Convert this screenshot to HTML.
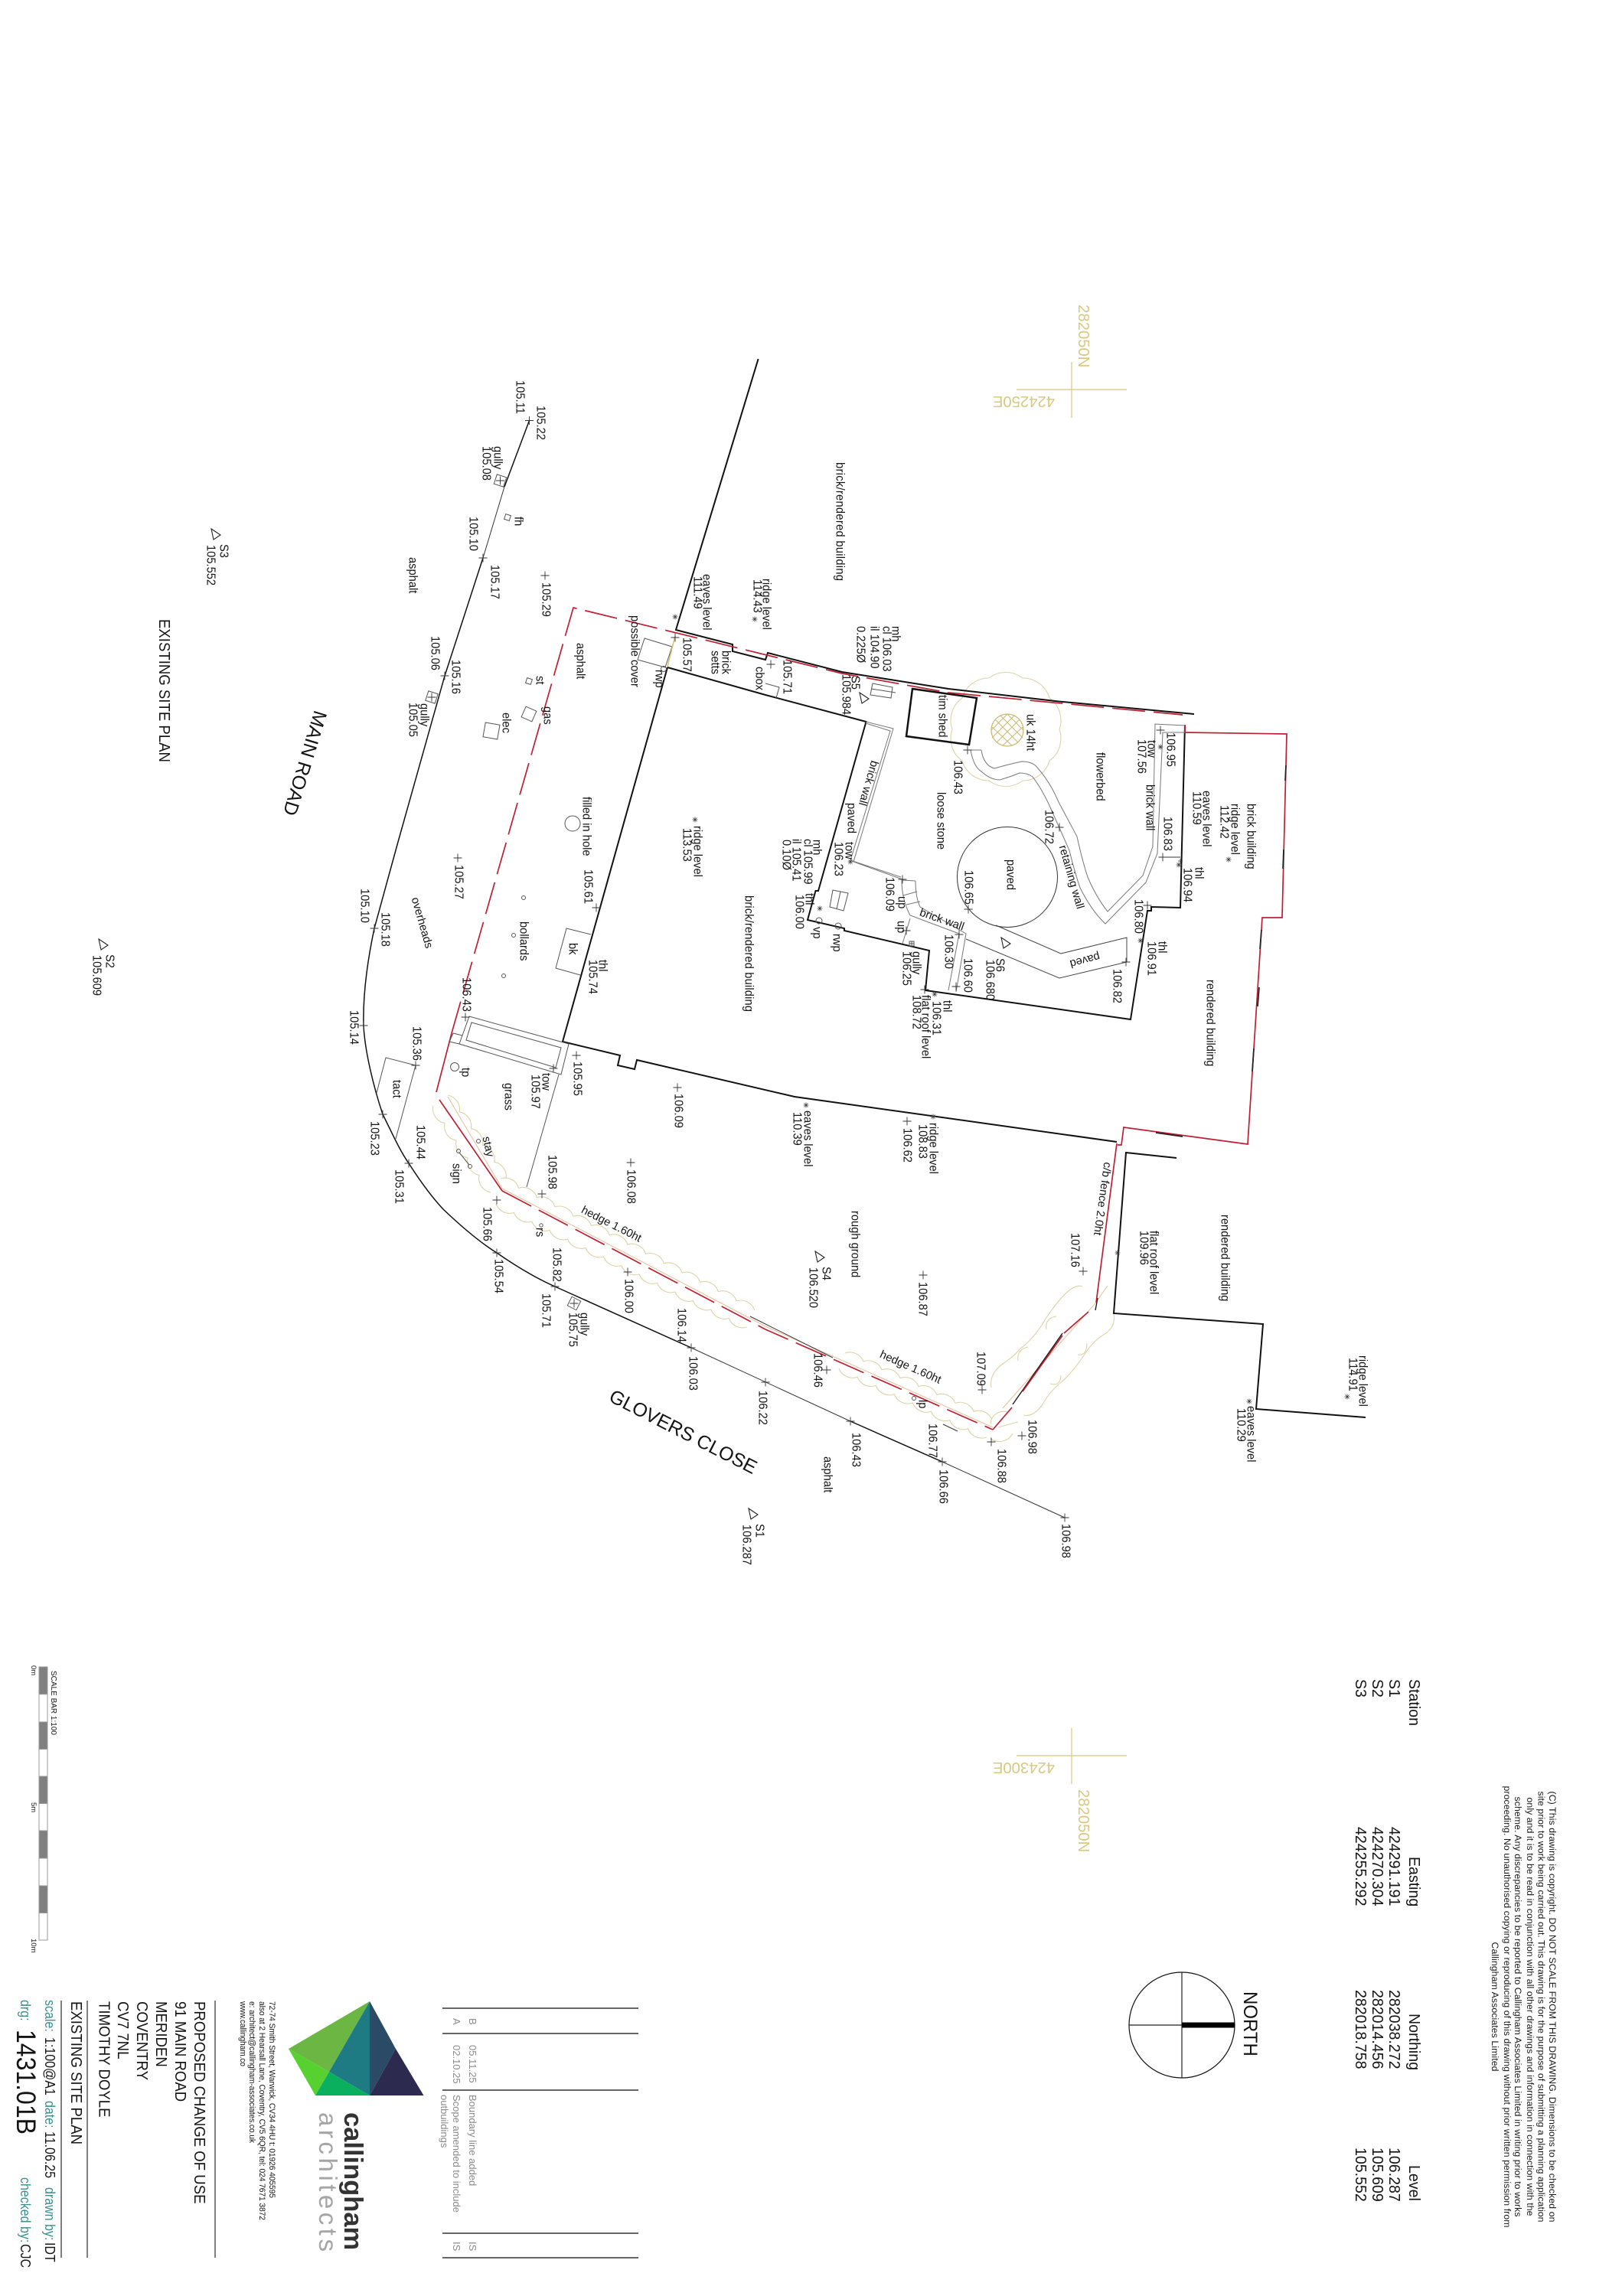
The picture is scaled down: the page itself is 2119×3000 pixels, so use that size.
<!DOCTYPE html>
<html><head><meta charset="utf-8"><title>Existing Site Plan</title>
<style>
html,body{margin:0;padding:0;background:#fff}
svg{display:block}
text{font-family:"Liberation Sans",sans-serif;font-size:14.7px;fill:#141414}
.t{fill:#3c8f8c}.g{fill:#8a8a8a;font-size:13px}.y{fill:#d8c880;font-size:20.3px}
.b19{font-size:19px}.b20{font-size:19.6px}
.th{fill:none;stroke:#111;stroke-width:2}
.tn{fill:none;stroke:#333;stroke-width:1}
.gr{fill:none;stroke:#777;stroke-width:1}
.hd{fill:none;stroke:#dcd3a6;stroke-width:1.1}
.rd{fill:none;stroke:#bd2033;stroke-width:1.7}
</style></head><body>
<svg xmlns="http://www.w3.org/2000/svg" width="2119" height="3000" viewBox="0 0 2119 3000">
<rect width="2119" height="3000" fill="#fff"/>

<!-- grid crosses -->
<path d="M1400 473V546M1328 509H1472M1400 2258V2331M1328 2294H1472" stroke="#d8c880" stroke-width="1.2" fill="none"/>
<text class="y" transform="matrix(0 1 -1 0 1409 398)">282050N</text>
<text class="y" transform="matrix(-1 0 0 -1 1378 518)">424250E</text>
<text class="y" transform="matrix(0 1 -1 0 1409 2338)">282050N</text>
<text class="y" transform="matrix(-1 0 0 -1 1378 2303)">424300E</text>

<!-- hedges -->
<path class="hd" d="M585 1431a19 19 0 0 1 15.2 21.8a19 19 0 0 1 15.2 21.8a19 19 0 0 1 15.2 21.8a19 19 0 0 1 15.2 21.8a19 19 0 0 1 15.2 21.8"/>
<path class="hd" d="M566 1445a19 19 0 0 0 15 22.6a19 19 0 0 0 15 22.6a19 19 0 0 0 15 22.6a19 19 0 0 0 15 22.6a19 19 0 0 0 15 22.6"/>
<path class="hd" d="M654 1540a19 19 0 0 1 23.7 12.3a19 19 0 0 1 23.7 12.3a19 19 0 0 1 23.7 12.3a19 19 0 0 1 23.7 12.3a19 19 0 0 1 23.7 12.3a19 19 0 0 1 23.7 12.3a19 19 0 0 1 23.7 12.3a19 19 0 0 1 23.7 12.3a19 19 0 0 1 23.7 12.3a19 19 0 0 1 23.7 12.3a19 19 0 0 1 23.7 12.3a19 19 0 0 1 23.7 12.3a19 19 0 0 1 23.7 12.3a19 19 0 0 1 23.7 12.3"/>
<path class="hd" d="M648 1573a19 19 0 0 0 23.4 11.5a19 19 0 0 0 23.4 11.5a19 19 0 0 0 23.4 11.5a19 19 0 0 0 23.4 11.5a19 19 0 0 0 23.4 11.5a19 19 0 0 0 23.4 11.5a19 19 0 0 0 23.4 11.5a19 19 0 0 0 23.4 11.5a19 19 0 0 0 23.4 11.5a19 19 0 0 0 23.4 11.5a19 19 0 0 0 23.4 11.5a19 19 0 0 0 23.4 11.5a19 19 0 0 0 23.4 11.5a19 19 0 0 0 23.4 11.5"/>
<path class="hd" d="M1104 1768a19 19 0 0 1 24 10.9a19 19 0 0 1 24 10.9a19 19 0 0 1 24 10.9a19 19 0 0 1 24 10.9a19 19 0 0 1 24 10.9a19 19 0 0 1 24 10.9a19 19 0 0 1 24 10.9a19 19 0 0 1 24 10.9"/>
<path class="hd" d="M1096 1788a19 19 0 0 0 24.1 11.25a19 19 0 0 0 24.1 11.25a19 19 0 0 0 24.1 11.25a19 19 0 0 0 24.1 11.25a19 19 0 0 0 24.1 11.25a19 19 0 0 0 24.1 11.25a19 19 0 0 0 24.1 11.25a19 19 0 0 0 24.1 11.25M1294 1880a20 20 0 0 0 29-7M1304 1865L1330 1858M1294 1860a17 17 0 0 1 22-15"/>
<path class="hd" d="M1295 1813Q1292 1795 1310 1782Q1325 1772 1332 1763Q1352 1748 1366 1723Q1385 1695 1397 1686Q1407 1678 1414 1681M1330 1778Q1328 1763 1343 1760M1367 1737Q1365 1722 1380 1720"/>
<path class="hd" d="M1337 1849Q1350 1852 1362 1835Q1370 1820 1384 1808Q1400 1795 1418 1768Q1430 1750 1445 1742Q1458 1732 1455 1716M1372 1808Q1385 1812 1386 1797M1408 1770Q1420 1772 1420 1755"/>
<path d="M585 1433L656 1553L1000 1733L1297 1865M1310 1840L1430 1704L1447 1680" fill="none" stroke="#e8bd95" stroke-width="1"/>

<!-- tree -->
<path class="hd" d="M1384 953A36 36 0 0 1 1371 994A36 36 0 0 1 1336 1020A36 36 0 0 1 1292 1020A36 36 0 0 1 1257 994A36 36 0 0 1 1244 953A36 36 0 0 1 1257 912A36 36 0 0 1 1292 886A36 36 0 0 1 1336 886A36 36 0 0 1 1371 912A36 36 0 0 1 1384 953"/>
<circle cx="1316" cy="954" r="21" fill="none" stroke="#c9bb73" stroke-width="1.3"/>
<path d="M1300 940L1330 970M1307 935L1336 964M1296 950L1322 974M1332 940L1302 970M1325 935L1296 964M1336 950L1310 974M1316 933L1337 954M1316 933L1295 954" fill="none" stroke="#c9bb73" stroke-width="1.1"/>

<!-- road edge -->
<path class="th" style="stroke-width:1.5" d="M691.5 549.5L659 636M631 729L581 883L520 1100L489 1213C478 1265 474 1305 475 1341C477 1375 488 1420 500 1456C512 1480 522 1503 534 1520C550 1545 565 1565 579 1580C600 1600 625 1622 649 1637C675 1655 700 1670 725 1681L903 1761M1111 1857L1231 1910"/>
<path class="tn" d="M659 636L631 729M903 1761L1111 1857M1231 1910L1391 1983"/>

<!-- buildings -->
<path class="th" d="M990.6 469L883 823L957 842L957 851L1000 862L1003 853L1100 878L1239 900L1383 916.5L1560 933"/>
<path class="th" d="M872 872L1000 908L1131.5 943L1069 1164L1065.5 1164L1055 1202L1103 1213L1103 1216L1214 1242L1209 1294L1477 1332L1499 1190L1504 1190L1504 1185L1542 1186L1548 947"/>
<path class="th" d="M872 872L808 1100L735 1361L810 1379L807 1392L829 1397L832 1385L1038 1433L1459 1492"/>
<path class="th" d="M1537 1513L1471 1506L1455 1716L1650 1730L1641 1841L1784 1852"/>
<path class="th" style="stroke-width:1.3" d="M1323 1835L1388 1742M1431 1712L1434 1696"/>
<path class="tn" d="M980 1720L1088 1774M1232 1861L1251 1870"/>
<path d="M1192 900L1276 912L1266 973L1184 962Z" fill="none" stroke="#111" stroke-width="2.5"/>

<!-- red boundary -->
<path class="rd" stroke-dasharray="43 11" d="M590 1350L749 794L1100 880L1239 905L1545 934"/>
<path class="rd" d="M590 1350L570 1427M574 1437L656 1556"/>
<path class="rd" stroke-dasharray="43 11" d="M656 1556L1000 1737L1297 1868"/>
<path class="rd" d="M1297 1868L1322 1839M1336 1818L1388 1745M1390 1742L1422 1714M1432 1702L1459 1494M1460 1496L1465 1496L1468 1473L1630 1495L1649 1199L1675 1199L1681 959L1548 957V947"/>
<path d="M1648 1215L1646 1240M1636 1400L1638 1370M1645 1290L1643 1315M1680 1000L1679 1020M1677 1110L1676 1135M1510 1480L1545 1485" stroke="#222" stroke-width="1.7" fill="none"/>

<!-- walls -->
<path class="gr" d="M1131 943L1167 952L1115 1126L1179 1149M1131 945L1163 955L1111 1124L1177 1146"/>
<path class="gr" d="M1178 1150Q1178 1175 1189 1196L1253 1220L1239 1294M1196 1151Q1196 1172 1202 1185L1262 1220L1249 1296M1180 1170L1198 1165M1184 1182L1202 1178M1189 1200L1179 1233M1178 1150L1196 1151"/>
<path class="gr" d="M1282 980Q1285 1000 1299 1004Q1320 998 1335 995Q1350 995 1356 1004Q1372 1022 1383 1048L1407 1093Q1414 1125 1421 1146Q1432 1172 1447 1191L1493 1144L1506 1106L1509 946L1548 948"/>
<path class="gr" d="M1268 980Q1272 1002 1282 1008Q1294 1019 1306 1019Q1320 1015 1332 1010Q1342 1010 1349 1015Q1362 1032 1373 1057L1397 1111Q1404 1140 1411 1160Q1426 1190 1444 1207L1497 1153L1512 1115L1519 957L1548 957M1268 980H1282"/>
<path class="tn" d="M1519 1120L1542 1120"/>
<path class="tn" style="stroke:#444" d="M1301 1209L1386 1246L1472 1225L1472 1257L1384 1278L1262 1227"/>
<circle cx="1316" cy="1146" r="65.5" fill="none" stroke="#333" stroke-width="1"/>

<!-- small features -->
<g fill="none" stroke="#555" stroke-width="1">
<rect x="-6.5" y="-6.5" width="13" height="13" transform="translate(653.5 628) rotate(18)"/>
<rect x="-3.5" y="-3.5" width="7" height="7" transform="translate(663 676) rotate(18)"/>
<rect x="-3.5" y="-3.5" width="7" height="7" transform="translate(691 890) rotate(18)"/>
<rect x="-7.5" y="-7.5" width="15" height="15" transform="translate(691 933) rotate(24)"/>
<rect x="-9.5" y="-9.5" width="19" height="19" transform="translate(642 955) rotate(10)"/>
<rect x="-6.5" y="-6.5" width="13" height="13" transform="translate(564 911) rotate(18)"/>
<rect x="-6.5" y="-6.5" width="13" height="13" transform="translate(750 1703) rotate(27)"/>
<path d="M842 834L878 845L869 872L833 862Z"/>
<path d="M1000 893L1018 898L1014 912"/>
<path d="M1140 893L1166 898L1164 912L1137 908ZM1138 900L1170 905"/>
<path d="M1088 1163L1108 1167L1102 1190L1084 1185ZM1098 1165L1093 1188"/>
<path d="M613 1328L743 1364L733 1404L600 1364ZM616 1336L733 1369L726 1395L609 1359Z"/>
<path d="M730 1404L688 1551M592 1350L587 1361L600 1364M592 1350L604 1353"/>
<path d="M772 1221L740 1213L726 1265L758 1274"/>
<path d="M492 1428L504 1382L543 1392L517 1488"/>
<circle cx="867" cy="874" r="3.5"/><circle cx="748" cy="1076" r="10"/>
<circle cx="684" cy="1173" r="2.5"/><circle cx="671" cy="1222" r="2.5"/><circle cx="658" cy="1275" r="2.5"/>
<circle cx="594" cy="1394" r="5.5"/><circle cx="625" cy="1491" r="2.5"/><circle cx="599" cy="1504" r="2.5"/><circle cx="614" cy="1524" r="2.5"/>
<path d="M600 1506L613 1522"/>
<circle cx="707" cy="1601" r="2.2"/><circle cx="1194" cy="1827" r="2.5"/><circle cx="1070" cy="1203" r="4"/><circle cx="1095" cy="1210" r="4"/>
<rect x="1188" y="1230" width="6" height="6"/><path d="M1191 1230v6M1188 1233h6"/>
</g>
<path d="M882 831L872 871" stroke="#cdbf70" stroke-width="1.5" fill="none"/>

<!-- triangles -->
<g fill="none" stroke="#222" stroke-width="1.1">
<path d="M1065 1635L1077 1643L1068 1649Z"/>
<path d="M1123 905L1135 913L1126 919Z"/>
<path d="M1308 1225L1320 1233L1311 1239Z"/>
<path d="M276 691L288 699L279 705Z"/>
<path d="M129 1227L141 1235L132 1241Z"/>
<path d="M978 1971L990 1979L981 1985Z"/>
</g>

<!-- survey plus marks -->
<path fill="none" stroke="#333" stroke-width=".9" d="M686 549.5h11m-5.5-5.5v11M625.500 729h11m-5.500-5.500v11M706.500 752h11m-5.500-5.500v11M575.500 883h11m-5.500-5.500v11M876.500 833h11m-5.500-5.500v11M1001.500 868h11m-5.500-5.500v11M592.500 1121h11m-5.500-5.500v11M773.500 1186h11m-5.500-5.500v11M483.500 1213h11m-5.500-5.500v11M602.500 1329h11m-5.500-5.500v11M469.500 1340h11m-5.500-5.500v11M537.500 1392h11m-5.500-5.500v11M747.500 1379h11m-5.500-5.500v11M879.500 1421h11m-5.500-5.500v11M494.500 1456h11m-5.500-5.500v11M528.500 1520h11m-5.500-5.500v11M818.500 1519h11m-5.500-5.500v11M702.500 1560h11m-5.500-5.500v11M643.500 1568h11m-5.500-5.500v11M643.500 1637h11m-5.500-5.500v11M814.500 1662h11m-5.500-5.500v11M719.500 1681h11m-5.500-5.500v11M744.500 1703h11m-5.500-5.500v11M897.500 1761h11m-5.500-5.500v11M1179.500 1465h11m-5.500-5.500v11M1200.500 1666h11m-5.500-5.500v11M1409.500 1661h11m-5.500-5.500v11M1277.500 1816h11m-5.500-5.500v11M1074.500 1790h11m-5.500-5.500v11M1329.500 1876h11m-5.500-5.500v11M1289.500 1884h11m-5.500-5.500v11M1225.500 1910h11m-5.500-5.500v11M1105.500 1857h11m-5.500-5.500v11M1385.500 1983h11m-5.500-5.500v11M994.500 1806h11m-5.500-5.500v11M1258.500 980h11m-5.500-5.500v11M1510.500 954h11m-5.500-5.500v11M1378.500 1081h11m-5.500-5.500v11M1513.500 1120h11m-5.500-5.500v11M1173.500 1149h11m-5.500-5.500v11M1259.500 1188h11m-5.500-5.500v11M1493.500 1183h11m-5.500-5.500v11M1247.500 1221h11m-5.500-5.500v11M1465.500 1257h11m-5.500-5.500v11M1243.500 1289h11m-5.500-5.500v11M1202.500 1293h11m-5.500-5.500v11M648 628h11m-5.500-5.500v11M558.500 911h11m-5.500-5.500v11M1178.500 1216h11m-5.500-5.500v11M717.500 1396h11m-5.500-5.500v11"/>
<!-- star marks -->
<path fill="none" stroke="#444" stroke-width=".8" d="M878.500 806h7m-3.500-3.500v7m-2.500-6l5 5m0-5l-5 5M982.500 809h7m-3.500-3.500v7m-2.500-6l5 5m0-5l-5 5M1049.500 1444h7m-3.500-3.500v7m-2.500-6l5 5m0-5l-5 5M1067.500 1187h7m-3.500-3.500v7m-2.500-6l5 5m0-5l-5 5M1215.500 1459h7m-3.500-3.500v7m-2.500-6l5 5m0-5l-5 5M1456.500 1637h7m-3.500-3.500v7m-2.500-6l5 5m0-5l-5 5M904.500 1071h7m-3.500-3.500v7m-2.500-6l5 5m0-5l-5 5M1628.500 1831h7m-3.500-3.500v7m-2.500-6l5 5m0-5l-5 5M1756.500 1825h7m-3.500-3.500v7m-2.500-6l5 5m0-5l-5 5M1512.500 976h7m-3.500-3.500v7m-2.500-6l5 5m0-5l-5 5M1107.500 1126h7m-3.500-3.500v7m-2.500-6l5 5m0-5l-5 5M1536.500 1130h7m-3.500-3.500v7m-2.500-6l5 5m0-5l-5 5M1539 1125h6m-3-3v6M1601.500 1123h7m-3.500-3.500v7m-2.500-6l5 5m0-5l-5 5M1486.500 1229h7m-3.500-3.500v7m-2.500-6l5 5m0-5l-5 5M1217.500 1299h7m-3.500-3.500v7m-2.500-6l5 5m0-5l-5 5"/>

<!-- road names -->
<text style="font-size:25px" transform="translate(411 927) rotate(107)">MAIN ROAD</text>
<text style="font-size:25px" transform="translate(794 1830) rotate(27)">GLOVERS CLOSE</text>
<text style="font-size:18.6px" transform="matrix(0 1 -1.08 0 208 809)">EXISTING SITE PLAN</text>

<g transform="translate(2.5 0)">
<!-- station labels on plan -->
<text transform="matrix(0 1 -1.08 0 285 711)">S3</text><text transform="matrix(0 1 -1.08 0 268 712)">105.552</text>
<text transform="matrix(0 1 -1.08 0 136 1247)">S2</text><text transform="matrix(0 1 -1.08 0 119 1248)">105.609</text>
<text transform="matrix(0 1 -1.08 0 985 1991)">S1</text><text transform="matrix(0 1 -1.08 0 968 1992)">106.287</text>

<!-- labels zone 1 -->
<text transform="matrix(0 1 -1.08 0 699 530)">105.22</text>
<text transform="matrix(0 1 -1.08 0 672 497)">105.11</text>
<text transform="matrix(0 1 -1.08 0 643 583)">gully</text>
<text transform="matrix(0 1 -1.08 0 628 583)">105.08</text>
<text transform="matrix(0 1 -1.08 0 670 675)">fh</text>
<text transform="matrix(0 1 -1.08 0 611 675)">105.10</text>
<text transform="matrix(0 1 -1.08 0 532 728)">asphalt</text>
<text transform="matrix(0 1 -1.08 0 639 738)">105.17</text>
<text transform="matrix(0 1 -1.08 0 706 761)">105.29</text>
<text transform="matrix(0 1 -1.08 0 561 831)">105.06</text>
<text transform="matrix(0 1 -1.08 0 588 862)">105.16</text>
<text transform="matrix(0 1 -1.08 0 547 919)">gully</text>
<text transform="matrix(0 1 -1.08 0 532 918)">105.05</text>
<text transform="matrix(0 1 -1.08 0 698 883)">st</text>
<text transform="matrix(0 1 -1.08 0 708 923)">gas</text>
<text transform="matrix(0 1 -1.08 0 654 931)">elec</text>
<text transform="matrix(0 1 -1.08 0 751 840)">asphalt</text>
<text transform="matrix(0 1 -1.08 0 822 804)">possible cover</text>
<text transform="matrix(0 1 -1.08 0 854 875)">rwp</text>
<text transform="matrix(0 1 -1.08 0 890 833)">105.57</text>
<text transform="matrix(0 1 -1.08 0 916 750)">eaves level</text>
<text transform="matrix(0 1 -1.08 0 904 753)">111.49</text>
<text transform="matrix(0 1 -1.08 0 994 756)">ridge level</text>
<text transform="matrix(0 1 -1.08 0 982 757)">114.43</text>
<text transform="matrix(0 1 -1.08 0 941 850)">brick</text>
<text transform="matrix(0 1 -1.08 0 927 850)">setts</text>
<text transform="matrix(0 1 -1.08 0 985 871)">cbox</text>
<text transform="matrix(0 1 -1.08 0 1021 862)">105.71</text>
<text textLength="155" transform="matrix(0 1 -1.08 0 1090 604)">brick/rendered building</text>
<text transform="matrix(0 1 -1.08 0 759 1041)">filled in hole</text>
<text transform="matrix(0 1 -1.08 0 904 1079)">ridge level</text>
<text transform="matrix(0 1 -1.08 0 890 1082)">113.53</text>

<!-- labels zone 3 -->
<text transform="matrix(0 1 -1.08 0 592 1130)">105.27</text>
<text transform="matrix(0 1 -1.08 0 761 1136)">105.61</text>
<text transform="matrix(0 1 -1.08 0 469 1161)">105.10</text>
<text transform="matrix(0 1 -1.08 0 496 1192)">105.18</text>
<text transform="translate(535 1174) rotate(74)">overheads</text>
<text transform="matrix(0 1 -1.08 0 677 1204)">bollards</text>
<text transform="matrix(0 1 -1.08 0 741 1232)">bk</text>
<text transform="matrix(0 1 -1.08 0 780 1254)">thl</text>
<text transform="matrix(0 1 -1.08 0 767 1254)">105.74</text>
<text textLength="152" transform="matrix(0 1 -1.08 0 971 1170)">brick/rendered building</text>
<text transform="matrix(0 1 -1.08 0 602 1277)">106.43</text>
<text transform="matrix(0 1 -1.08 0 455 1320)">105.14</text>
<text transform="matrix(0 1 -1.08 0 537 1341)">105.36</text>
<text transform="matrix(0 1 -1.08 0 747 1387)">105.95</text>
<text transform="matrix(0 1 -1.08 0 601 1395)">tp</text>
<text transform="matrix(0 1 -1.08 0 511 1411)">tact</text>
<text transform="matrix(0 1 -1.08 0 706 1402)">tow</text>
<text transform="matrix(0 1 -1.08 0 692 1404)">105.97</text>
<text transform="matrix(0 1 -1.08 0 657 1415)">grass</text>
<text transform="matrix(0 1 -1.08 0 879 1429)">106.09</text>
<text transform="matrix(0 1 -1.08 0 1048 1451)">eaves level</text>
<text transform="matrix(0 1 -1.08 0 1034 1453)">110.39</text>
<text transform="matrix(0 1 -1.08 0 482 1465)">105.23</text>
<text transform="matrix(0 1 -1.08 0 542 1470)">105.44</text>
<text transform="translate(628 1486) rotate(78)">stay</text>
<text transform="matrix(0 1 -1.08 0 589 1520)">sign</text>
<text transform="matrix(0 1 -1.08 0 514 1528)">105.31</text>
<text transform="matrix(0 1 -1.08 0 714 1509)">105.98</text>
<text transform="matrix(0 1 -1.08 0 817 1528)">106.08</text>
<text transform="matrix(0 1 -1.08 0 629 1577)">105.66</text>
<text transform="translate(756 1584) rotate(27)">hedge 1.60ht</text>
<text transform="matrix(0 1 -1.08 0 698 1604)">rs</text>
<text transform="matrix(0 1 -1.08 0 720 1630)">105.82</text>
<text transform="matrix(0 1 -1.08 0 644 1645)">105.54</text>
<text transform="matrix(0 1 -1.08 0 706 1690)">105.71</text>
<text transform="matrix(0 1 -1.08 0 756 1715)">gully</text>
<text transform="matrix(0 1 -1.08 0 741 1715)">105.75</text>
<text transform="matrix(0 1 -1.08 0 814 1671)">106.00</text>
<text transform="matrix(0 1 -1.08 0 883 1709)">106.14</text>
<text transform="matrix(0 1 -1.08 0 1072 1655)">S4</text>
<text transform="matrix(0 1 -1.08 0 1055 1656)">106.520</text>
<text transform="matrix(0 1 -1.08 0 898 1772)">106.03</text>
<text transform="matrix(0 1 -1.08 0 1061 1768)">106.46</text>
<text transform="matrix(0 1 -1.08 0 989 1817)">106.22</text>

<!-- labels zone 4 -->
<text transform="matrix(0 1 -1.08 0 1212 1467)">ridge level</text>
<text transform="matrix(0 1 -1.08 0 1198 1469)">108.83</text>
<text transform="matrix(0 1 -1.08 0 1178 1474)">106.62</text>
<text transform="translate(1440 1518) rotate(98)">c/b fence 2.0ht</text>
<text transform="matrix(0 1 -1.08 0 1110 1582)">rough ground</text>
<text transform="matrix(0 1 -1.08 0 1397 1611)">107.16</text>
<text transform="matrix(0 1 -1.08 0 1500 1608)">flat roof level</text>
<text transform="matrix(0 1 -1.08 0 1487 1608)">109.96</text>
<text transform="matrix(0 1 -1.08 0 1593 1587)">rendered building</text>
<text transform="matrix(0 1 -1.08 0 1198 1675)">106.87</text>
<text transform="matrix(0 1 -1.08 0 1385 1991)">106.98</text>
<text transform="matrix(0 1 -1.08 0 1341 1855)">106.98</text>
<text transform="matrix(0 1 -1.08 0 1301 1893)">106.88</text>
<text transform="matrix(0 1 -1.08 0 1211 1860)">106.77</text>
<text transform="matrix(0 1 -1.08 0 1225 1920)">106.66</text>
<text transform="matrix(0 1 -1.08 0 1111 1872)">106.43</text>
<text transform="matrix(0 1 -1.08 0 1074 1903)">asphalt</text>
<text transform="translate(1146 1773) rotate(24)">hedge 1.60ht</text>
<text transform="matrix(0 1 -1.08 0 1274 1766)">107.09</text>
<text transform="matrix(0 1 -1.08 0 1198 1829)">lp</text>
<text transform="matrix(0 1 -1.08 0 1627 1837)">eaves level</text>
<text transform="matrix(0 1 -1.08 0 1614 1840)">110.29</text>
<text transform="matrix(0 1 -1.08 0 1773 1771)">ridge level</text>
<text transform="matrix(0 1 -1.08 0 1760 1774)">114.91</text>

<!-- labels zone 2 -->
<text transform="matrix(0 1 -1.08 0 1163 818)">mh</text>
<text transform="matrix(0 1 -1.08 0 1151 818)">cl 106.03</text>
<text transform="matrix(0 1 -1.08 0 1135 818)">il 104.90</text>
<text transform="matrix(0 1 -1.08 0 1117 818)">0.225Ø</text>
<text transform="matrix(0 1 -1.08 0 1110 883)">S5</text>
<text transform="matrix(0 1 -1.08 0 1098 881)">105.984</text>
<text transform="matrix(0 1 -1.08 0 1224 908)">tim shed</text>
<text transform="matrix(0 1 -1.08 0 1339 933)">uk 14ht</text>
<text transform="matrix(0 1 -1.08 0 1244 993)">106.43</text>
<text transform="matrix(0 1 -1.08 0 1430 983)">flowerbed</text>
<text transform="matrix(0 1 -1.08 0 1497 967)">tow</text>
<text transform="matrix(0 1 -1.08 0 1484 966)">107.56</text>
<text transform="matrix(0 1 -1.08 0 1522 957)">106.95</text>
<text transform="matrix(0 1 -1.08 0 1495 1025)">brick wall</text>
<text transform="translate(1136 993) rotate(106)">brick wall</text>
<text transform="matrix(0 1 -1.08 0 1105 1049)">paved</text>
<text transform="matrix(0 1 -1.08 0 1102 1100)">tow</text>
<text transform="matrix(0 1 -1.08 0 1088 1100)">106.23</text>
<text transform="matrix(0 1 -1.08 0 1222 1035)">loose stone</text>
<text transform="matrix(0 1 -1.08 0 1363 1058)">106.72</text>
<text transform="translate(1381 1106) rotate(74)">retaining wall</text>
<text transform="matrix(0 1 -1.08 0 1518 1067)">106.83</text>
<text transform="matrix(0 1 -1.08 0 1569 1033)">eaves level</text>
<text transform="matrix(0 1 -1.08 0 1556 1034)">110.59</text>
<text transform="matrix(0 1 -1.08 0 1606 1050)">ridge level</text>
<text transform="matrix(0 1 -1.08 0 1592 1052)">112.42</text>
<text transform="matrix(0 1 -1.08 0 1627 1050)">brick building</text>
<text transform="matrix(0 1 -1.08 0 1060 1097)">mh</text>
<text transform="matrix(0 1 -1.08 0 1048 1096)">cl 105.99</text>
<text transform="matrix(0 1 -1.08 0 1033 1096)">il 105.41</text>
<text transform="matrix(0 1 -1.08 0 1020 1097)">0.10Ø</text>
<text transform="matrix(0 1 -1.08 0 1559 1133)">thl</text>
<text transform="matrix(0 1 -1.08 0 1544 1134)">106.94</text>
<text transform="matrix(0 1 -1.08 0 1313 1123)">paved</text>
<text transform="matrix(0 1 -1.08 0 1258 1137)">106.65</text>
<text transform="matrix(0 1 -1.08 0 1155 1146)">106.09</text>
<text transform="matrix(0 1 -1.08 0 1171 1171)">up</text>
<text transform="matrix(0 1 -1.08 0 1050 1167)">thl</text>
<text transform="matrix(0 1 -1.08 0 1037 1169)">106.00</text>
<text transform="matrix(0 1 -1.08 0 1480 1175)">106.80</text>
<text transform="translate(1198 1196) rotate(19)">brick wall</text>
<text transform="matrix(0 1 -1.08 0 1170 1203)">up</text>
<text transform="matrix(0 1 -1.08 0 1060 1211)">vp</text>
<text transform="matrix(0 1 -1.08 0 1086 1220)">rwp</text>
<text transform="matrix(0 1 -1.08 0 1232 1221)">106.30</text>
<text transform="matrix(0 1 -1.08 0 1299 1252)">S6</text>
<text transform="matrix(0 1 -1.08 0 1286 1254)">106.680</text>
<text transform="matrix(0 1 -1.08 0 1257 1252)">106.60</text>
<text transform="matrix(0 1 -1.08 0 1511 1230)">thl</text>
<text transform="matrix(0 1 -1.08 0 1497 1230)">106.91</text>
<text transform="matrix(0 1 -1.08 0 1190 1243)">gully</text>
<text transform="matrix(0 1 -1.08 0 1177 1243)">106.25</text>
<text transform="translate(1433 1245) rotate(165)">paved</text>
<text transform="matrix(0 1 -1.08 0 1452 1266)">106.82</text>
<text transform="matrix(0 1 -1.08 0 1230 1307)">thl</text>
<text transform="matrix(0 1 -1.08 0 1216 1308)">106.31</text>
<text transform="matrix(0 1 -1.08 0 1202 1300)">flat roof level</text>
<text transform="matrix(0 1 -1.08 0 1190 1300)">108.72</text>
<text transform="matrix(0 1 -1.08 0 1574 1280)">rendered building</text>
</g>

<!-- scale bar -->
<g stroke="#999" stroke-width="1">
<rect x="51" y="2178" width="11" height="357" fill="#fff"/>
<rect x="51" y="2178" width="11" height="35.700" fill="#808080"/>
<rect x="51" y="2250" width="11" height="35.500" fill="#808080"/>
<rect x="51" y="2321" width="11" height="35.500" fill="#808080"/>
<rect x="51" y="2392" width="11" height="36" fill="#808080"/>
<rect x="51" y="2464" width="11" height="35.500" fill="#808080"/>
</g>
<text style="font-size:10px" transform="matrix(0 1 -1 0 67 2183)">SCALE BAR 1:100</text>
<text style="font-size:9.5px" transform="matrix(0 1 -1 0 41 2176)">0m</text>
<text style="font-size:9.5px" transform="matrix(0 1 -1 0 41 2355)">5m</text>
<text style="font-size:9.5px" transform="matrix(0 1 -1 0 41 2533)">10m</text>

<!-- title block -->
<path d="M281 2614V2950M114 2614V2950M80 2614V2950" stroke="#555" stroke-width="1.5" fill="none"/>
<text style="font-size:18.6px" transform="matrix(0 1 -1.1 0 254 2615)">PROPOSED CHANGE OF USE</text>
<text style="font-size:18.6px" transform="matrix(0 1 -1.1 0 229 2615)">91 MAIN ROAD</text>
<text style="font-size:18.6px" transform="matrix(0 1 -1.1 0 204 2615)">MERIDEN</text>
<text style="font-size:18.6px" transform="matrix(0 1 -1.1 0 179 2615)">COVENTRY</text>
<text style="font-size:18.6px" transform="matrix(0 1 -1.1 0 154 2615)">CV7 7NL</text>
<text style="font-size:18.6px" transform="matrix(0 1 -1.1 0 129.500 2615)">TIMOTHY DOYLE</text>
<text style="font-size:18.6px" transform="matrix(0 1 -1.1 0 93 2615)">EXISTING SITE PLAN</text>
<text class="t" style="font-size:16px" transform="matrix(0 1 -1.15 0 59 2613)">scale:</text>
<text style="font-size:16px" transform="matrix(0 1 -1.15 0 59 2662)">1:100@A1</text>
<text class="t" style="font-size:16px" transform="matrix(0 1 -1.15 0 59 2745)">date:</text>
<text style="font-size:16px" transform="matrix(0 1 -1.15 0 59 2785)">11.06.25</text>
<text class="t" style="font-size:16px" transform="matrix(0 1 -1.15 0 59 2858)">drawn by:</text>
<text style="font-size:16px" transform="matrix(0 1 -1.15 0 59 2930)">IDT</text>
<text class="t" style="font-size:16px" transform="matrix(0 1 -1.15 0 27 2613)">drg:</text>
<text style="font-size:32px" transform="matrix(0 1 -1.1 0 22 2652)">1431.01B</text>
<text class="t" style="font-size:16px" transform="matrix(0 1 -1.15 0 27 2845)">checked by:</text>
<text style="font-size:16px" transform="matrix(0 1 -1.15 0 27 2932)">CJC</text>
<text style="font-size:10.300px" textLength="257" transform="matrix(0 1 -1.1 0 352 2615)">72-74 Smith Street, Warwick, CV34 4HU t: 01926 405595</text>
<text style="font-size:10.300px" textLength="286" transform="matrix(0 1 -1.1 0 339 2615)">also at 2 Hearsall Lane, Coventry, CV5 6QR, tel: 024 7671 3872</text>
<text style="font-size:10.300px" textLength="185" transform="matrix(0 1 -1.1 0 326 2615)">e: architect@callingham-associates.co.uk</text>
<text style="font-size:10.300px" textLength="85" transform="matrix(0 1 -1.1 0 314 2615)">www.callingham.co</text>

<!-- logo -->
<polygon points="483,2615 377,2677 430,2707" fill="#6cb644"/>
<polygon points="377,2677 430,2707 412,2738" fill="#57d130"/>
<polygon points="412,2738 430,2707 483,2738" fill="#0bb05e"/>
<polygon points="483,2615 430,2707 483,2738" fill="#1e7b84"/>
<polygon points="483,2615 483,2738 517,2677" fill="#2a4a66"/>
<polygon points="517,2677 483,2738 553.500,2738" fill="#2c2a4e"/>
<text style="font-size:34.500px;font-weight:bold;fill:#333" transform="matrix(0 1 -1 0 450 2760)">callingham</text>
<text style="font-size:33px;fill:#a5a5a5" textLength="182" transform="matrix(0 1 -1 0 417 2760)">architects</text>

<!-- revision table -->
<path d="M578 2624H834M578 2657H834M578 2731H834M578 2918H834M578 2950H834" stroke="#333" stroke-width="1.500" fill="none"/>
<text class="g" transform="matrix(0 1 -1 0 613 2637)">B</text>
<text class="g" transform="matrix(0 1 -1 0 592 2637)">A</text>
<text class="g" transform="matrix(0 1 -1 0 613 2672)">05.11.25</text>
<text class="g" transform="matrix(0 1 -1 0 592 2672)">02.10.25</text>
<text class="g" transform="matrix(0 1 -1 0 613 2737)">Boundary line added</text>
<text class="g" transform="matrix(0 1 -1 0 592 2737)">Scope amended to include</text>
<text class="g" transform="matrix(0 1 -1 0 576 2737)">outbuildings</text>
<text class="g" transform="matrix(0 1 -1 0 613 2929)">IS</text>
<text class="g" transform="matrix(0 1 -1 0 592 2929)">IS</text>

<!-- north -->
<circle cx="1544" cy="2646" r="69" fill="none" stroke="#111" stroke-width="1.200"/>
<path d="M1544 2577V2715M1475 2646H1544" stroke="#222" stroke-width="1.200"/>
<path d="M1544 2646H1613" stroke="#000" stroke-width="7"/>
<text style="font-size:24px" transform="matrix(0 1 -1.05 0 1625 2602)">NORTH</text>

<!-- station table -->
<text class="b20" transform="matrix(0 1 -1.05 0 1841 2194)">Station</text>
<text class="b20" transform="matrix(0 1 -1.05 0 1815 2194)">S1</text>
<text class="b20" transform="matrix(0 1 -1.05 0 1793 2194)">S2</text>
<text class="b20" transform="matrix(0 1 -1.05 0 1771 2194)">S3</text>
<text class="b20" transform="matrix(0 1 -1.05 0 1841 2426)">Easting</text>
<text class="b20" transform="matrix(0 1 -1.05 0 1815 2387)">424291.191</text>
<text class="b20" transform="matrix(0 1 -1.05 0 1793 2387)">424270.304</text>
<text class="b20" transform="matrix(0 1 -1.05 0 1771 2387)">424255.292</text>
<text class="b20" transform="matrix(0 1 -1.05 0 1841 2631)">Northing</text>
<text class="b20" transform="matrix(0 1 -1.05 0 1815 2600)">282038.272</text>
<text class="b20" transform="matrix(0 1 -1.05 0 1793 2600)">282014.456</text>
<text class="b20" transform="matrix(0 1 -1.05 0 1771 2600)">282018.758</text>
<text class="b20" transform="matrix(0 1 -1.05 0 1841 2829)">Level</text>
<text class="b20" transform="matrix(0 1 -1.05 0 1815 2806)">106.287</text>
<text class="b20" transform="matrix(0 1 -1.05 0 1793 2806)">105.609</text>
<text class="b20" transform="matrix(0 1 -1.05 0 1771 2806)">105.552</text>

<!-- copyright -->
<g text-anchor="middle">
<text style="font-size:12.300px" textLength="563" transform="matrix(0 1 -1 0 2024 2622)">(C) This drawing is copyright. DO NOT SCALE FROM THIS DRAWING. Dimensions to be checked on</text>
<text style="font-size:12.300px" textLength="563" transform="matrix(0 1 -1 0 2009.500 2622)">site prior to work being carried out. This drawing is for the purpose of submitting a planning application</text>
<text style="font-size:12.300px" textLength="547" transform="matrix(0 1 -1 0 1995 2622)">only and it is to be read in conjunction with all other drawings and information in connection with the</text>
<text style="font-size:12.300px" textLength="549" transform="matrix(0 1 -1 0 1979 2622)">scheme. Any discrepancies to be reported to Callingham Associates Limited in writing prior to works</text>
<text style="font-size:12.300px" textLength="577" transform="matrix(0 1 -1 0 1965 2622)">proceeding. No unauthorised copying or reproducing of this drawing without prior written permission from</text>
<text style="font-size:12.300px" textLength="169" transform="matrix(0 1 -1 0 1949 2622)">Callingham Associates Limited</text>
</g>
</svg>
</body></html>
